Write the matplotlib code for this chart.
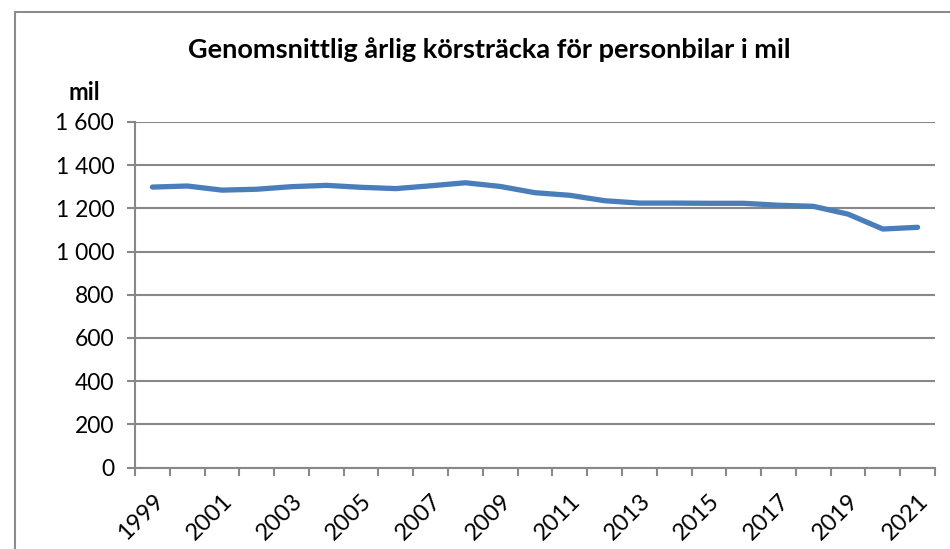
import numpy
from matplotlib import pyplot
from matplotlib.patches import Rectangle
from matplotlib.ticker import FuncFormatter

# Data.
Years = list(range(1999, 2022))
Mil = [1298, 1303, 1284, 1288, 1300, 1306, 1297, 1291, 1304, 1318, 1301, 1272,
       1260, 1235, 1224, 1224, 1223, 1223, 1214, 1209, 1173, 1104, 1112]
YTicks = [0, 200, 400, 600, 800, 1000, 1200, 1400, 1600]

Title = 'Genomsnittlig årlig körsträcka för personbilar i mil'
Unit = 'mil'
LineColor = '#4A7EBB'
GridColor = '#888888'
Font = ['Lato', 'DejaVu Sans']


def SpaceThousands(v, pos=None):
  return '{:,.0f}'.format(v).replace(',', ' ')


def Run():
  pyplot.rcParams['font.family'] = Font
  W, H = 950., 549.
  fig = pyplot.figure(figsize=(W / 100, H / 100), dpi=100)

  # Outer chart border (only top and left visible in the reference crop).
  fig.patches.append(Rectangle((15 / W, -0.1), 1.2, (H - 12) / H + 0.1,
                               transform=fig.transFigure, fill=False,
                               edgecolor='#8c8c8c', linewidth=1.5))

  left, right, top, bottom = 135., 935., 121.8, 467.7
  ax = fig.add_axes([left / W, 1 - bottom / H, (right - left) / W, (bottom - top) / H])

  x = numpy.arange(len(Years))
  ax.plot(x, Mil, '-', color=LineColor, linewidth=3.8, solid_capstyle='round',
          solid_joinstyle='round', zorder=3)

  ax.set_xlim(-0.5, len(Years) - 0.5)
  ax.set_ylim(0, 1600)
  ax.set_yticks(YTicks)
  ax.yaxis.set_major_formatter(FuncFormatter(SpaceThousands))
  ax.yaxis.grid(True, color=GridColor, linewidth=1.5)
  ax.set_axisbelow(True)

  # Category labels every other year, boundary tick marks between categories.
  ax.set_xticks(x[::2])
  ax.set_xticklabels([str(y) for y in Years[::2]], rotation=45, ha='right',
                     va='top', rotation_mode='anchor')
  ax.set_xticks(numpy.arange(-0.5, len(Years)), minor=True)
  ax.tick_params(axis='x', which='major', length=0, pad=16, labelsize=17)
  ax.tick_params(axis='x', which='minor', length=6, width=1.5, color=GridColor,
                 direction='out')
  ax.tick_params(axis='y', length=6, width=1.5, color=GridColor, labelsize=16.5, pad=9)

  for s in ('top', 'right'):
    ax.spines[s].set_visible(False)
  for s in ('left', 'bottom'):
    ax.spines[s].set_color(GridColor)
    ax.spines[s].set_linewidth(1.5)

  fig.text(489 / W, 1 - 50 / H, Title, ha='center', va='center',
           fontsize=19.5, fontweight='bold')
  fig.text(84 / W, 1 - 92 / H, Unit, ha='center', va='center',
           fontsize=17, fontweight='bold')

  fig.savefig('out.png', dpi=100)


if __name__ == '__main__':
  Run()
